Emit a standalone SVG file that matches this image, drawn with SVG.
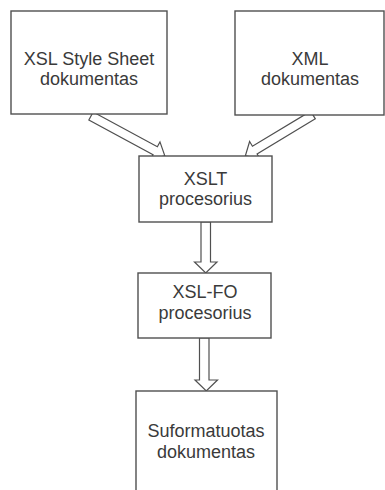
<svg xmlns="http://www.w3.org/2000/svg" width="385" height="490" viewBox="0 0 385 490">
  <style>
    .box { fill: #ffffff; stroke: #505050; stroke-width: 1.4; }
    .arrow { fill: #ffffff; stroke: #505050; stroke-width: 1.2; stroke-linejoin: miter; }
    .label { font-family: "Liberation Sans", Arial, sans-serif; font-size: 18px; fill: #3a3a3a; text-anchor: middle; }
  </style>
  <rect width="385" height="490" fill="#ffffff"/>

  <!-- hollow block arrows -->
  <g id="connectors">
    <!-- XSL Style Sheet -> XSLT -->
    <polygon class="arrow" transform="translate(91,116) rotate(28.4)"
             points="0,-4.5 73,-4.5 73,-10 84,0 73,10 73,4.5 0,4.5"/>
    <!-- XML -> XSLT -->
    <polygon class="arrow" transform="translate(313,115) rotate(148.9)"
             points="0,-4.5 68,-4.5 68,-10 79,0 68,10 68,4.5 0,4.5"/>
    <!-- XSLT -> XSL-FO -->
    <polygon class="arrow" points="201,222 210.5,222 210.5,262 217,262 205.75,273 194.5,262 201,262"/>
    <!-- XSL-FO -> output -->
    <polygon class="arrow" points="199.5,338 209,338 209,380 217.5,380 206.25,391 195,380 199.5,380"/>
  </g>

  <g id="xsl-stylesheet">
    <rect class="box" x="11" y="11" width="156" height="103"/>
    <text class="label" x="89" y="65">XSL Style Sheet</text>
    <text class="label" x="89" y="85">dokumentas</text>
  </g>

  <g id="xml-doc">
    <rect class="box" x="235" y="11" width="149" height="104"/>
    <text class="label" x="310" y="65">XML</text>
    <text class="label" x="310" y="85">dokumentas</text>
  </g>

  <g id="xslt">
    <rect class="box" x="139" y="156" width="133" height="66"/>
    <text class="label" x="205.5" y="185">XSLT</text>
    <text class="label" x="205.5" y="205">procesorius</text>
  </g>

  <g id="xsl-fo">
    <rect class="box" x="138" y="273" width="133" height="65"/>
    <text class="label" x="205" y="298">XSL-FO</text>
    <text class="label" x="205" y="319">procesorius</text>
  </g>

  <g id="formatted-doc">
    <rect class="box" x="136" y="391" width="141" height="120"/>
    <text class="label" x="206" y="437">Suformatuotas</text>
    <text class="label" x="206" y="458">dokumentas</text>
  </g>
</svg>
